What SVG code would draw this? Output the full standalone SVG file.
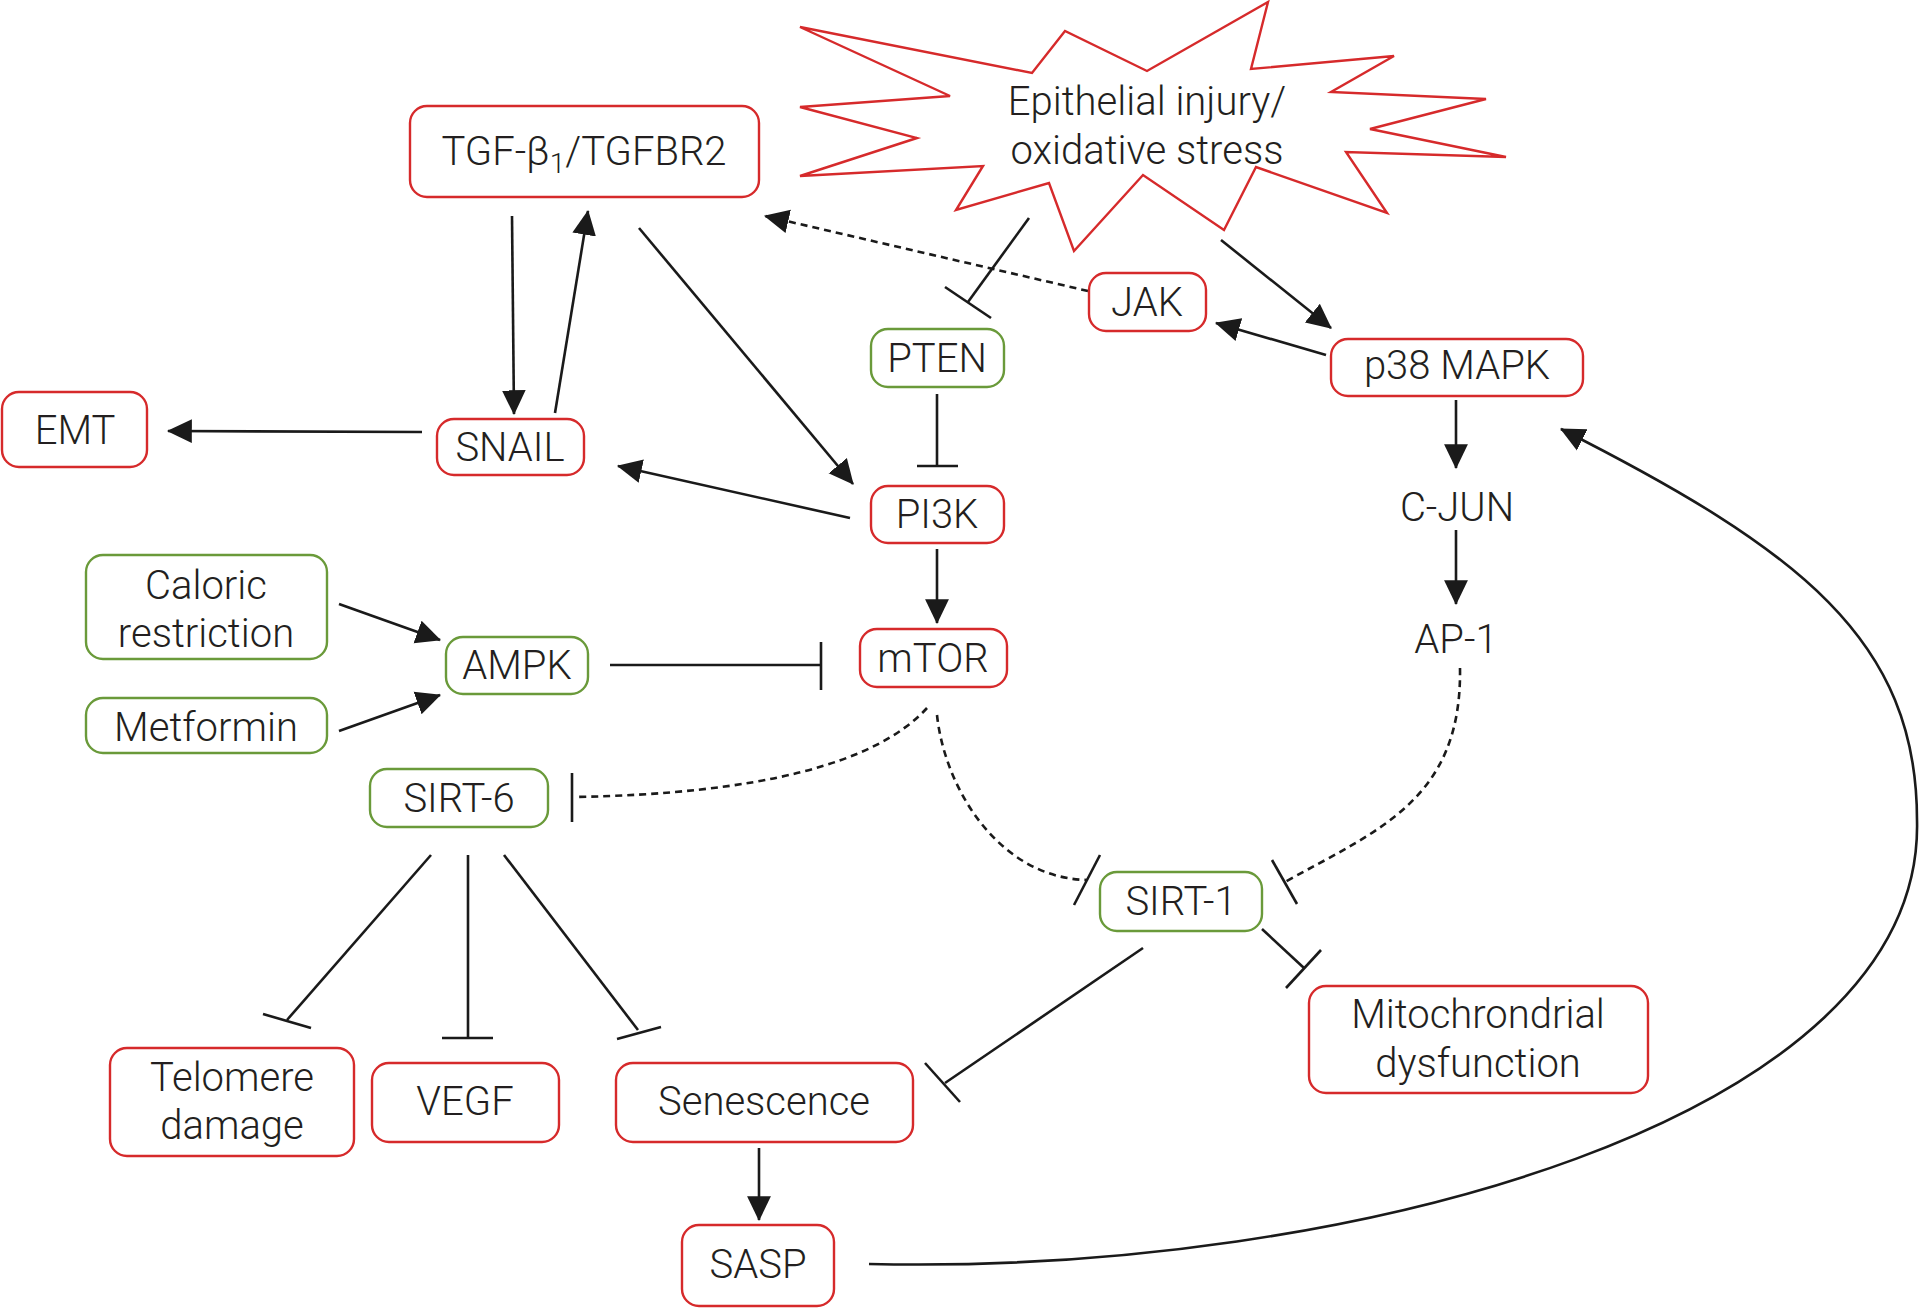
<svg xmlns="http://www.w3.org/2000/svg" width="1920" height="1308" viewBox="0 0 1920 1308">
<defs>
<marker id="arr" markerUnits="userSpaceOnUse" markerWidth="26" markerHeight="26" viewBox="0 0 24 24" refX="22" refY="12" orient="auto">
<path d="M0,1 L23,12 L0,23 Z" fill="#1a1a1a"/>
</marker>
<style>
.r{fill:#fff;stroke:#d62a2b;stroke-width:2.4}
.g{fill:#fff;stroke:#6a9a3a;stroke-width:2.4}
.t{font-family:Roboto,"Liberation Sans",sans-serif;font-size:40px;font-weight:300;fill:#231f20;text-anchor:middle}
.c{fill:none;stroke:#1a1a1a;stroke-width:2.6}
.a{marker-end:url(#arr)}
.d{stroke-dasharray:7 5}
</style>
</defs>
<rect width="1920" height="1308" fill="#fff"/>

<g id="connectors">
<line class="c a" x1="512" y1="216" x2="514" y2="414"/>
<line class="c a" x1="555" y1="413" x2="588" y2="211"/>
<line class="c a" x1="422" y1="432" x2="168" y2="431"/>
<line class="c a" x1="639" y1="228" x2="853" y2="484"/>
<line class="c a" x1="850" y1="518" x2="618" y2="466"/>
<line class="c" x1="1029" y1="218" x2="968" y2="302"/>
<line class="c" x1="945" y1="287" x2="991" y2="318"/>
<line class="c d a" x1="1088" y1="291" x2="765" y2="216"/>
<line class="c a" x1="1221" y1="240" x2="1331" y2="328"/>
<line class="c a" x1="1326" y1="355" x2="1216" y2="323"/>
<line class="c" x1="937" y1="394" x2="937" y2="466"/>
<line class="c" x1="917" y1="466" x2="958" y2="466"/>
<line class="c a" x1="937" y1="549" x2="937" y2="623"/>
<line class="c a" x1="1456" y1="400" x2="1456" y2="468"/>
<line class="c a" x1="1456" y1="530" x2="1456" y2="604"/>
<line class="c a" x1="339" y1="604" x2="440" y2="640"/>
<line class="c a" x1="339" y1="731" x2="440" y2="695"/>
<line class="c" x1="610" y1="665" x2="821" y2="665"/>
<line class="c" x1="821" y1="642" x2="821" y2="690"/>
<path class="c d" d="M927,708 Q850,792 575,797"/>
<line class="c" x1="572" y1="773" x2="572" y2="822"/>
<path class="c d" d="M937,715 C945,790 1000,878 1087,880"/>
<line class="c" x1="1100" y1="855" x2="1074" y2="905"/>
<path class="c d" d="M1460,668 C1462,800 1378,830 1285,882"/>
<line class="c" x1="1272" y1="860" x2="1297" y2="904"/>
<line class="c" x1="1262" y1="929" x2="1304" y2="968"/>
<line class="c" x1="1286" y1="988" x2="1321" y2="950"/>
<line class="c" x1="1143" y1="948" x2="945" y2="1083"/>
<line class="c" x1="925" y1="1063" x2="960" y2="1102"/>
<line class="c" x1="431" y1="855" x2="287" y2="1020"/>
<line class="c" x1="263" y1="1014" x2="311" y2="1028"/>
<line class="c" x1="468" y1="855" x2="468" y2="1038"/>
<line class="c" x1="442" y1="1038" x2="493" y2="1038"/>
<line class="c" x1="504" y1="855" x2="638" y2="1030"/>
<line class="c" x1="617" y1="1039" x2="661" y2="1027"/>
<line class="c a" x1="759" y1="1148" x2="759" y2="1220"/>
<path class="c a" d="M869,1264 C1350,1275 1925,1120 1917,820 C1917,640 1800,550 1561,429"/>
</g>

<g id="stress">
<polygon points="800,27 1032,73 1065,31 1147,71 1268,2 1251,69 1394,56 1331,92 1486,99 1370,129 1506,157 1346,152 1387,213 1256,167 1224,230 1143,175 1074,251 1049,183 956,210 983,166 800,176 917,138 800,107 950,96" fill="#fff" stroke="#d62a2b" stroke-width="2.4" stroke-linejoin="miter"/>
<text class="t" x="1147" y="115">Epithelial injury/</text>
<text class="t" x="1147" y="164">oxidative stress</text>
</g>

<g id="tgf"><rect class="r" x="410" y="106" width="349" height="91" rx="17"/><text class="t" x="584" y="165">TGF-β<tspan font-size="28" dy="8">1</tspan><tspan dy="-8">/TGFBR2</tspan></text></g>
<g id="emt"><rect class="r" x="2" y="392" width="145" height="75" rx="17"/><text class="t" x="75" y="444">EMT</text></g>
<g id="snail"><rect class="r" x="437" y="419" width="147" height="56" rx="17"/><text class="t" x="510" y="461">SNAIL</text></g>
<g id="pten"><rect class="g" x="871" y="329" width="133" height="58" rx="17"/><text class="t" x="937" y="372">PTEN</text></g>
<g id="jak"><rect class="r" x="1089" y="273" width="117" height="58" rx="17"/><text class="t" x="1147" y="316">JAK</text></g>
<g id="p38"><rect class="r" x="1331" y="339" width="252" height="57" rx="17"/><text class="t" x="1457" y="379">p38 MAPK</text></g>
<g id="pi3k"><rect class="r" x="871" y="486" width="133" height="57" rx="17"/><text class="t" x="937" y="528">PI3K</text></g>
<g id="mtor"><rect class="r" x="860" y="629" width="147" height="58" rx="17"/><text class="t" x="933" y="672">mTOR</text></g>
<g id="cjun"><text class="t" x="1457" y="521">C-JUN</text></g>
<g id="ap1"><text class="t" x="1456" y="653">AP-1</text></g>
<g id="caloric"><rect class="g" x="86" y="555" width="241" height="104" rx="17"/><text class="t" x="206" y="599">Caloric</text><text class="t" x="206" y="647">restriction</text></g>
<g id="metformin"><rect class="g" x="86" y="698" width="241" height="55" rx="17"/><text class="t" x="206" y="741">Metformin</text></g>
<g id="ampk"><rect class="g" x="446" y="637" width="142" height="57" rx="17"/><text class="t" x="517" y="679">AMPK</text></g>
<g id="sirt6"><rect class="g" x="370" y="769" width="178" height="58" rx="17"/><text class="t" x="459" y="812">SIRT-6</text></g>
<g id="sirt1"><rect class="g" x="1100" y="872" width="162" height="59" rx="17"/><text class="t" x="1181" y="915">SIRT-1</text></g>
<g id="mito"><rect class="r" x="1309" y="986" width="339" height="107" rx="17"/><text class="t" x="1478" y="1028">Mitochrondrial</text><text class="t" x="1478" y="1077">dysfunction</text></g>
<g id="telomere"><rect class="r" x="110" y="1048" width="244" height="108" rx="17"/><text class="t" x="232" y="1091">Telomere</text><text class="t" x="232" y="1139">damage</text></g>
<g id="vegf"><rect class="r" x="372" y="1063" width="187" height="79" rx="17"/><text class="t" x="465" y="1115">VEGF</text></g>
<g id="senescence"><rect class="r" x="616" y="1063" width="297" height="79" rx="17"/><text class="t" x="764" y="1115">Senescence</text></g>
<g id="sasp"><rect class="r" x="682" y="1225" width="152" height="81" rx="17"/><text class="t" x="758" y="1278">SASP</text></g>
</svg>
